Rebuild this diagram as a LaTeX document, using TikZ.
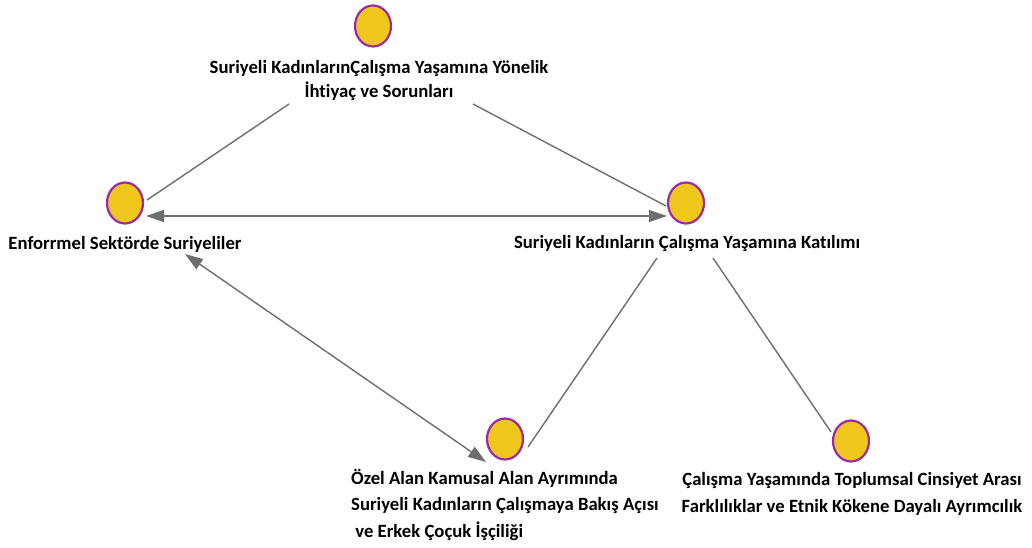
\documentclass[tikz,border=0pt]{standalone}
\usepackage{fontspec}
\setmainfont[Ligatures={NoCommon}]{Carlito}
\usetikzlibrary{arrows.meta,shapes.geometric}
\definecolor{dotfill}{HTML}{EEC61C}
\definecolor{dotline}{HTML}{9A2AA6}
\definecolor{edgecol}{HTML}{6E6E6E}
\tikzset{
  dot/.style={ellipse, draw=dotline, fill=dotfill, line width=2.2pt, minimum width=36pt, minimum height=41pt, inner sep=0pt},
  lab/.style={font=\fontsize{18.7}{24}\selectfont\bfseries, text=black, inner sep=0pt},
  labwide/.style={lab, font=\fontsize{18.7}{26.5}\selectfont\bfseries},
  edge/.style={draw=edgecol, line width=1.4pt},
  biarrow/.style={edge, {Triangle[length=18pt,width=12pt]}-{Triangle[length=18pt,width=12pt]}}
}
\begin{document}
\begin{tikzpicture}[x=1pt,y=-1pt]
\useasboundingbox (0,0) rectangle (1032,548);
% nodes
\node[dot] (t) at (373,26) {};
\node[dot] (l) at (125,203) {};
\node[dot] (r) at (686,203) {};
\node[dot] (m) at (505,439) {};
\node[dot] (b) at (851,441) {};
% labels
\node[lab, align=center] (tl) at (379,81) {Suriyeli KadınlarınÇalışma Yaşamına Yönelik\\İhtiyaç ve Sorunları};
\node[lab] (ll) at (125,244) {Enforrmel Sektörde Suriyeliler};
\node[lab] (rl) at (687,244) {Suriyeli Kadınların Çalışma Yaşamına Katılımı};
\node[labwide, align=left, anchor=north west] (ml) at (351,469) {Özel Alan Kamusal Alan Ayrımında\\Suriyeli Kadınların Çalışmaya Bakış Açısı\\ \ ve Erkek Çoçuk İşçiliği};
\node[labwide, align=center] (bl) at (852,494) {Çalışma Yaşamında Toplumsal Cinsiyet Arası\\Farklılıklar ve Etnik Kökene Dayalı Ayrımcılık};
% endpoints
\coordinate (tlL) at (289,104);
\coordinate (tlR) at (473,104);
\coordinate (lE) at (147,200);
\coordinate (rW) at (666,206);
\coordinate (lA) at (146,216);
\coordinate (rA) at (667,216);
\coordinate (llA) at (185,254);
\coordinate (mA) at (486,462);
\coordinate (rlL) at (657,258);
\coordinate (mE) at (528,447);
\coordinate (rlR) at (713,258);
\coordinate (bN) at (831,432);
% connectors
\draw[edge] (tlL) -- (lE);
\draw[edge] (tlR) -- (rW);
\draw[biarrow] (lA) -- (rA);
\draw[biarrow] (llA) -- (mA);
\draw[edge] (rlL) -- (mE);
\draw[edge] (rlR) -- (bN);
\end{tikzpicture}
\end{document}
